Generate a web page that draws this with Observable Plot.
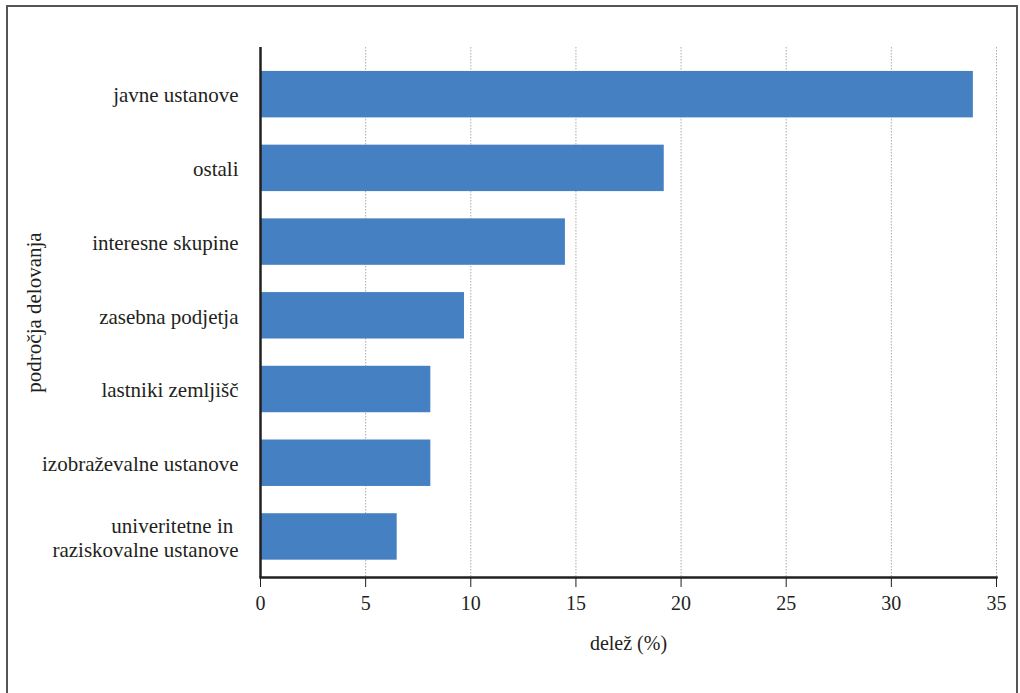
<!DOCTYPE html>
<html>
<head>
<meta charset="utf-8">
<script src="https://cdn.jsdelivr.net/npm/d3@7"></script>
<script src="https://cdn.jsdelivr.net/npm/@observablehq/plot@0.6"></script>
<style>
  html, body { margin: 0; padding: 0; background: #fff; }
  #wrap { position: relative; width: 1020px; height: 693px; overflow: hidden; }
  #border { position: absolute; left: 6px; top: 5px; width: 1012px; height: 720px;
            border: 2px solid #555; box-sizing: border-box; }
  #chart { position: absolute; left: 0; top: 0; }
</style>
</head>
<body>
<div id="wrap"><div id="border"></div><div id="chart"></div></div>
<script>
const categories = [
  "javne ustanove",
  "ostali",
  "interesne skupine",
  "zasebna podjetja",
  "lastniki zemljišč",
  "izobraževalne ustanove",
  "univeritetne in \nraziskovalne ustanove"
];
const values = [33.9, 19.2, 14.5, 9.7, 8.1, 8.1, 6.5];
const xTicks = [0, 5, 10, 15, 20, 25, 30, 35];

const data = categories.map((c, i) => ({category: c, value: values[i]}));
const FONT = "Liberation Serif";

const chart = Plot.plot({
  width: 1020,
  height: 693,
  marginLeft: 260,
  marginRight: 24,
  marginTop: 47,
  marginBottom: 116,
  style: {fontFamily: FONT, fontSize: "20px", color: "#231f20", background: "transparent"},
  x: {domain: [0, 35], ticks: xTicks},
  y: {domain: categories, paddingInner: 0.37, paddingOuter: 0.28, align: 0.58, round: false},
  marks: [
    Plot.gridX(xTicks.filter(d => d > 0), {stroke: "#aaa", strokeOpacity: 1, strokeDasharray: "1.5,1.5", strokeWidth: 1}),
    Plot.barX(data, {x: "value", y: "category", fill: "#4580c2"}),
    Plot.axisX({ticks: xTicks, tickSize: 10, tickPadding: 8, fontSize: 20, fontFamily: FONT, label: "delež (%)", labelAnchor: "center", labelArrow: "none", labelOffset: 72, stroke: "#231f20"}),
    Plot.axisY({tickSize: 0, tickPadding: 22, fontSize: 21, fontFamily: FONT, label: "področja delovanja", labelAnchor: "center", labelArrow: "none", labelOffset: 234, lineHeight: 1.15}),
    Plot.ruleX([0], {stroke: "#231f20", strokeWidth: 2.5}),
    Plot.frame({anchor: "bottom", stroke: "#231f20", strokeWidth: 2.5})
  ]
});
document.getElementById("chart").appendChild(chart);
</script>
</body>
</html>
